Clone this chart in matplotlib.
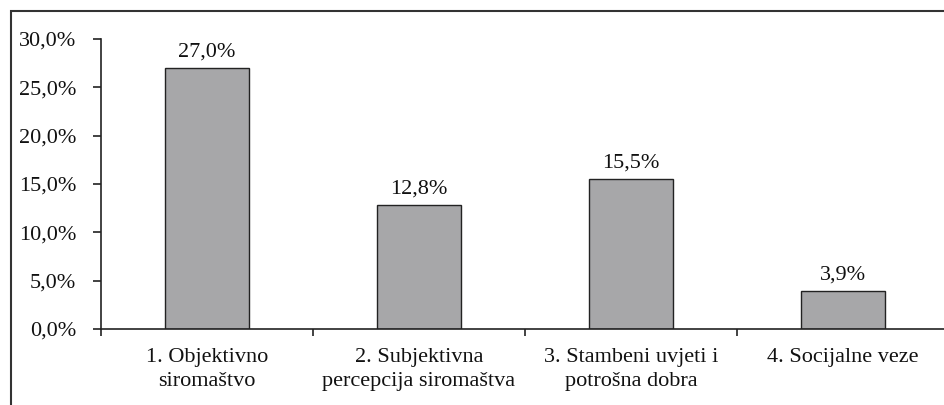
import matplotlib
matplotlib.use("Agg")
import matplotlib.pyplot as plt
from matplotlib.patches import Rectangle
from matplotlib.ticker import FuncFormatter, FixedLocator, NullFormatter

categories = ["1. Objektivno\nsiromaštvo",
              "2. Subjektivna\npercepcija siromaštva",
              "3. Stambeni uvjeti i\npotrošna dobra",
              "4. Socijalne veze"]
values = [27.0, 12.8, 15.5, 3.9]
yticks = [0, 5, 10, 15, 20, 25, 30]

plt.rcParams['font.family'] = ['Liberation Serif', 'DejaVu Serif']

W, H = 945, 405
fig = plt.figure(figsize=(W/100, H/100), dpi=100)
# axes: x from 101 to 949 px, y from 329 (0) to 39 (30)
ax = fig.add_axes([101/W, (H-329)/H, (949-101)/W, (329-39)/H])

x = list(range(len(categories)))
ax.bar(x, values, width=0.4, color='#a7a7a9', edgecolor='#222222', linewidth=1.0, zorder=2)
for xi, v in zip(x, values):
    ax.annotate(f"{v:.1f}%".replace('.', ','), (xi, v), xytext=(0, 5),
                textcoords='offset points', ha='center', va='bottom',
                fontsize=16, color='#111111')

ax.set_xlim(-0.5, len(categories) - 0.5)
ax.set_ylim(0, 30)
ax.set_yticks(yticks)
ax.yaxis.set_major_formatter(FuncFormatter(lambda v, p: f"{v:.1f}%".replace('.', ',')))
ax.tick_params(axis='y', direction='out', length=6, width=1.2, color='#222222',
               labelsize=16, pad=12, labelcolor='#111111')

# category boundary ticks
ax.xaxis.set_major_locator(FixedLocator([i - 0.5 for i in range(len(categories) + 1)]))
ax.xaxis.set_major_formatter(NullFormatter())
ax.xaxis.set_minor_locator(FixedLocator(x))
ax.set_xticklabels(categories, minor=True)
ax.tick_params(axis='x', which='major', direction='out', length=5, width=1.2, color='#222222')
ax.tick_params(axis='x', which='minor', length=0, labelsize=16, pad=14, labelcolor='#111111')
for lbl in ax.get_xticklabels(minor=True):
    lbl.set_linespacing(1.3)

for s in ['top', 'right']:
    ax.spines[s].set_visible(False)
for s in ['left', 'bottom']:
    ax.spines[s].set_color('#222222')
    ax.spines[s].set_linewidth(1.2)

# outer frame
fig.patches.append(Rectangle((11/W, -0.1), 1.2, (H-11)/H + 0.1, transform=fig.transFigure,
                             fill=False, edgecolor='#333333', linewidth=1.5))

fig.savefig("out.png", dpi=100)
